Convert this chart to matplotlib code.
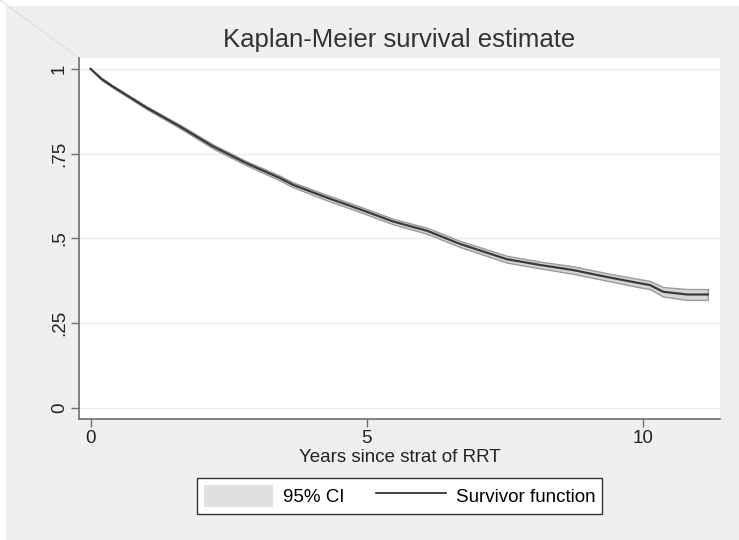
import matplotlib
matplotlib.use("Agg")
import matplotlib.pyplot as plt
from matplotlib.patches import Rectangle, Patch
from matplotlib.lines import Line2D

plt.rcParams['font.family'] = ['Liberation Sans', 'DejaVu Sans']

# Data
years = [0.0, 0.20, 0.40, 1.01, 1.62, 2.22, 2.82, 3.43, 3.67, 4.27, 4.88, 5.48,
         6.09, 6.69, 7.54, 8.14, 8.74, 9.34, 9.95, 10.13, 10.37, 10.80, 11.18]
survival = [1.000, 0.970, 0.948, 0.886, 0.830, 0.771, 0.722, 0.678, 0.658, 0.621, 0.586, 0.550,
            0.523, 0.484, 0.439, 0.422, 0.407, 0.387, 0.368, 0.363, 0.343, 0.335, 0.335]
ci_lower = [1.000, 0.967, 0.945, 0.882, 0.825, 0.765, 0.716, 0.671, 0.651, 0.613, 0.578, 0.542,
            0.514, 0.475, 0.429, 0.412, 0.396, 0.376, 0.356, 0.351, 0.329, 0.319, 0.319]
ci_upper = [1.000, 0.973, 0.951, 0.890, 0.835, 0.777, 0.728, 0.685, 0.665, 0.629, 0.594, 0.558,
            0.532, 0.493, 0.449, 0.432, 0.418, 0.398, 0.380, 0.375, 0.357, 0.351, 0.351]

xticks = [0, 5, 10]
xtick_labels = ['0', '5', '10']
yticks = [0, 0.25, 0.5, 0.75, 1.0]
ytick_labels = ['0', '.25', '.5', '.75', '1']

title = 'Kaplan-Meier survival estimate'
xlabel = 'Years since strat of RRT'
legend_labels = ['95% CI', 'Survivor function']

W, H = 739, 540
fig = plt.figure(figsize=(W / 100, H / 100), dpi=100, facecolor='white')

# grey outer panel
fig.patches.append(Rectangle((6 / W, 0), 1 - 6 / W, 1 - 6 / H, transform=fig.transFigure,
                             facecolor='#efefef', edgecolor='none', zorder=-10))
# faint diagonal artifact in the top-left corner
fig.lines.append(Line2D([0, 79 / W], [1, 1 - 58 / H], transform=fig.transFigure,
                        color='#dcdcdc', linewidth=0.8, zorder=-5))

ax = fig.add_axes([79 / W, 1 - 419 / H, (720 - 79) / W, (419 - 58) / H])
ax.set_facecolor('white')

ax.fill_between(years, ci_lower, ci_upper, facecolor='#d6d6d6', edgecolor='#9a9a9a',
                linewidth=1.0, zorder=2)
ax.plot(years, survival, color='#3a3a3a', linewidth=1.6, zorder=3)

ax.set_xlim(-0.21, 11.40)
ax.set_ylim(-0.032, 1.032)

ax.set_xticks(xticks)
ax.set_xticklabels(xtick_labels, fontsize=13.5, color='#222222')
ax.set_yticks(yticks)
ax.set_yticklabels(ytick_labels, fontsize=13.5, color='#222222', rotation=90, va='center')

ax.grid(axis='y', color='#ececec', linewidth=1.0, zorder=0)
ax.set_axisbelow(True)

for s in ['top', 'right']:
    ax.spines[s].set_visible(False)
for s in ['left', 'bottom']:
    ax.spines[s].set_color('#6e6e6e')
    ax.spines[s].set_linewidth(1.2)

ax.tick_params(axis='both', direction='out', length=6, width=1, color='#6e6e6e', pad=2)

ax.set_xlabel(xlabel, fontsize=13.5, color='#222222', labelpad=1)
fig.text((79 + 720) / 2 / W, 1 - 40 / H, title, fontsize=18.5, color='#333333',
         ha='center', va='center')

handles = [Patch(facecolor='#e0e0e0', edgecolor='none'),
           Line2D([], [], color='#222222', linewidth=1.2)]
leg = fig.legend(handles, legend_labels, ncol=2, loc='lower left',
                 bbox_to_anchor=(197 / W, 1 - 514 / H, 405 / W, 35 / H), mode='expand',
                 fontsize=13.5, frameon=True, fancybox=False, handlelength=3.7,
                 handleheight=1.5, borderpad=0.35, columnspacing=2.0, handletextpad=0.55,
                 borderaxespad=0)
leg.get_frame().set_edgecolor('#333333')
leg.get_frame().set_linewidth(1.0)
leg.get_frame().set_facecolor('white')
leg.get_frame().set_alpha(1)

fig.savefig('out.png', dpi=100, facecolor=fig.get_facecolor())
